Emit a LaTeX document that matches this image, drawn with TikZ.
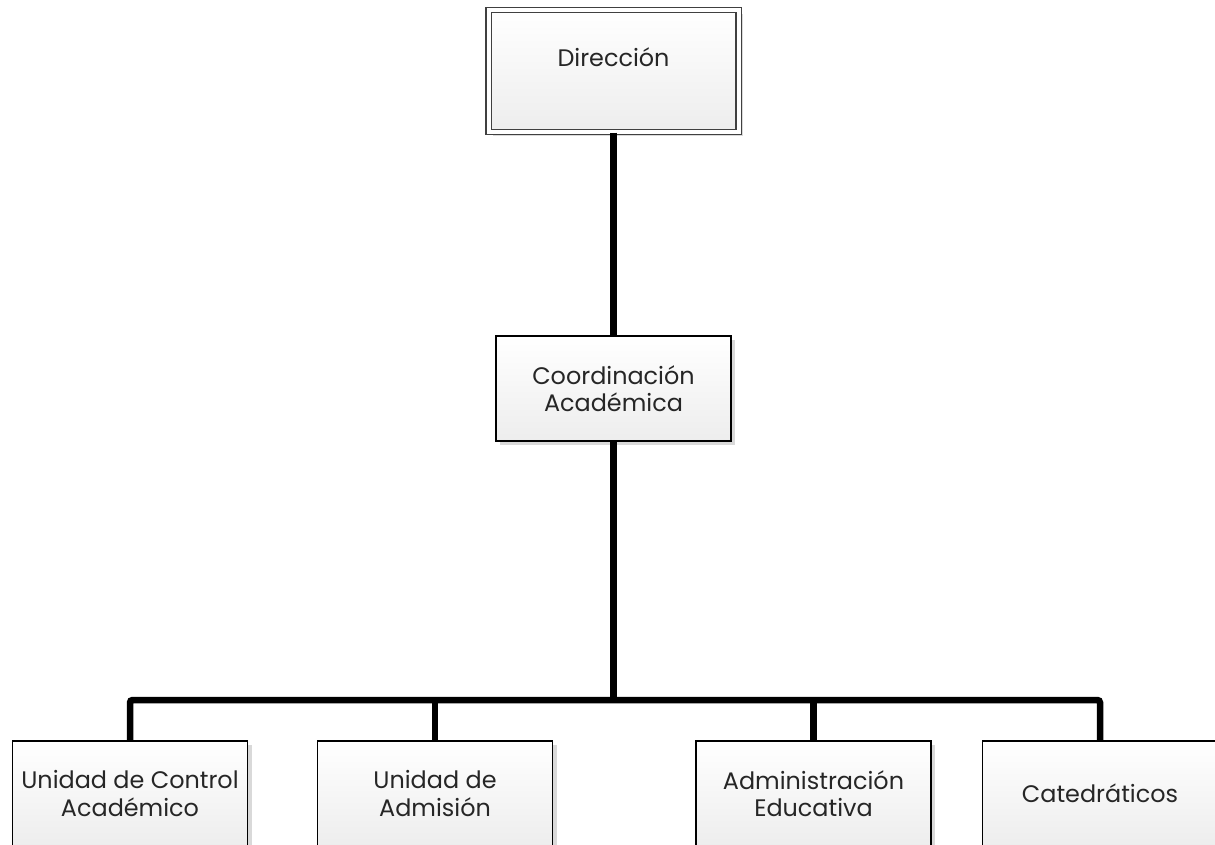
\documentclass[tikz,border=0pt]{standalone}
\usepackage{fontspec}
\setmainfont{Poppins}
\usetikzlibrary{positioning}
\usetikzlibrary{shadows}

\begin{document}
\begin{tikzpicture}[%
    font=\fontsize{13.6}{15.4}\selectfont,
    boxnode/.style={rectangle, align=center, draw=black, line width=1.1pt, top color=white, bottom color=black!7, text=black!85, minimum width=4.7cm, minimum height=2.1cm, drop shadow={shadow xshift=0.08cm, shadow yshift=-0.08cm, fill=black!15, opacity=1}},
    dirnode/.style={boxnode, line width=0.6pt, draw=black!75, double=white, double distance=0.08cm, minimum width=5cm, minimum height=2.44cm},
    conn/.style={draw=black, line width=3.7pt, rounded corners=1.5pt}
]
\useasboundingbox (0,0) rectangle (24.3,-16.88);

% top nodes
\node[dirnode, label={[text=black!85, yshift=0.28cm]center:Dirección}]    (direccion) at (12.27,-1.42) {};

\node[boxnode]      (coordinacion) [below=4.05cm of direccion] {Coordinación\\Académica};

% bottom nodes
\node[boxnode]      (ucontrol) at (2.6,-15.87) {Unidad de Control\\Académico};
\node[boxnode]      (uadmision) at (8.7,-15.87) {Unidad de\\Admisión};
\node[boxnode]      (admeducativa) at (16.27,-15.87) {Administración\\Educativa};
\node[boxnode]      (catedraticos) at (22.0,-15.87) {Catedráticos};

\coordinate (bus) at (12.27,-14);

% lines
\draw[conn] (direccion.south) -- (coordinacion.north);
\draw[conn] (coordinacion.south) -- (bus);
\draw[conn] (ucontrol.north) |- (bus) -| (catedraticos.north);
\foreach \n in {uadmision, admeducativa}
    \draw[conn] (\n.north) -- (\n.north |- bus);

\end{tikzpicture}
\end{document}
